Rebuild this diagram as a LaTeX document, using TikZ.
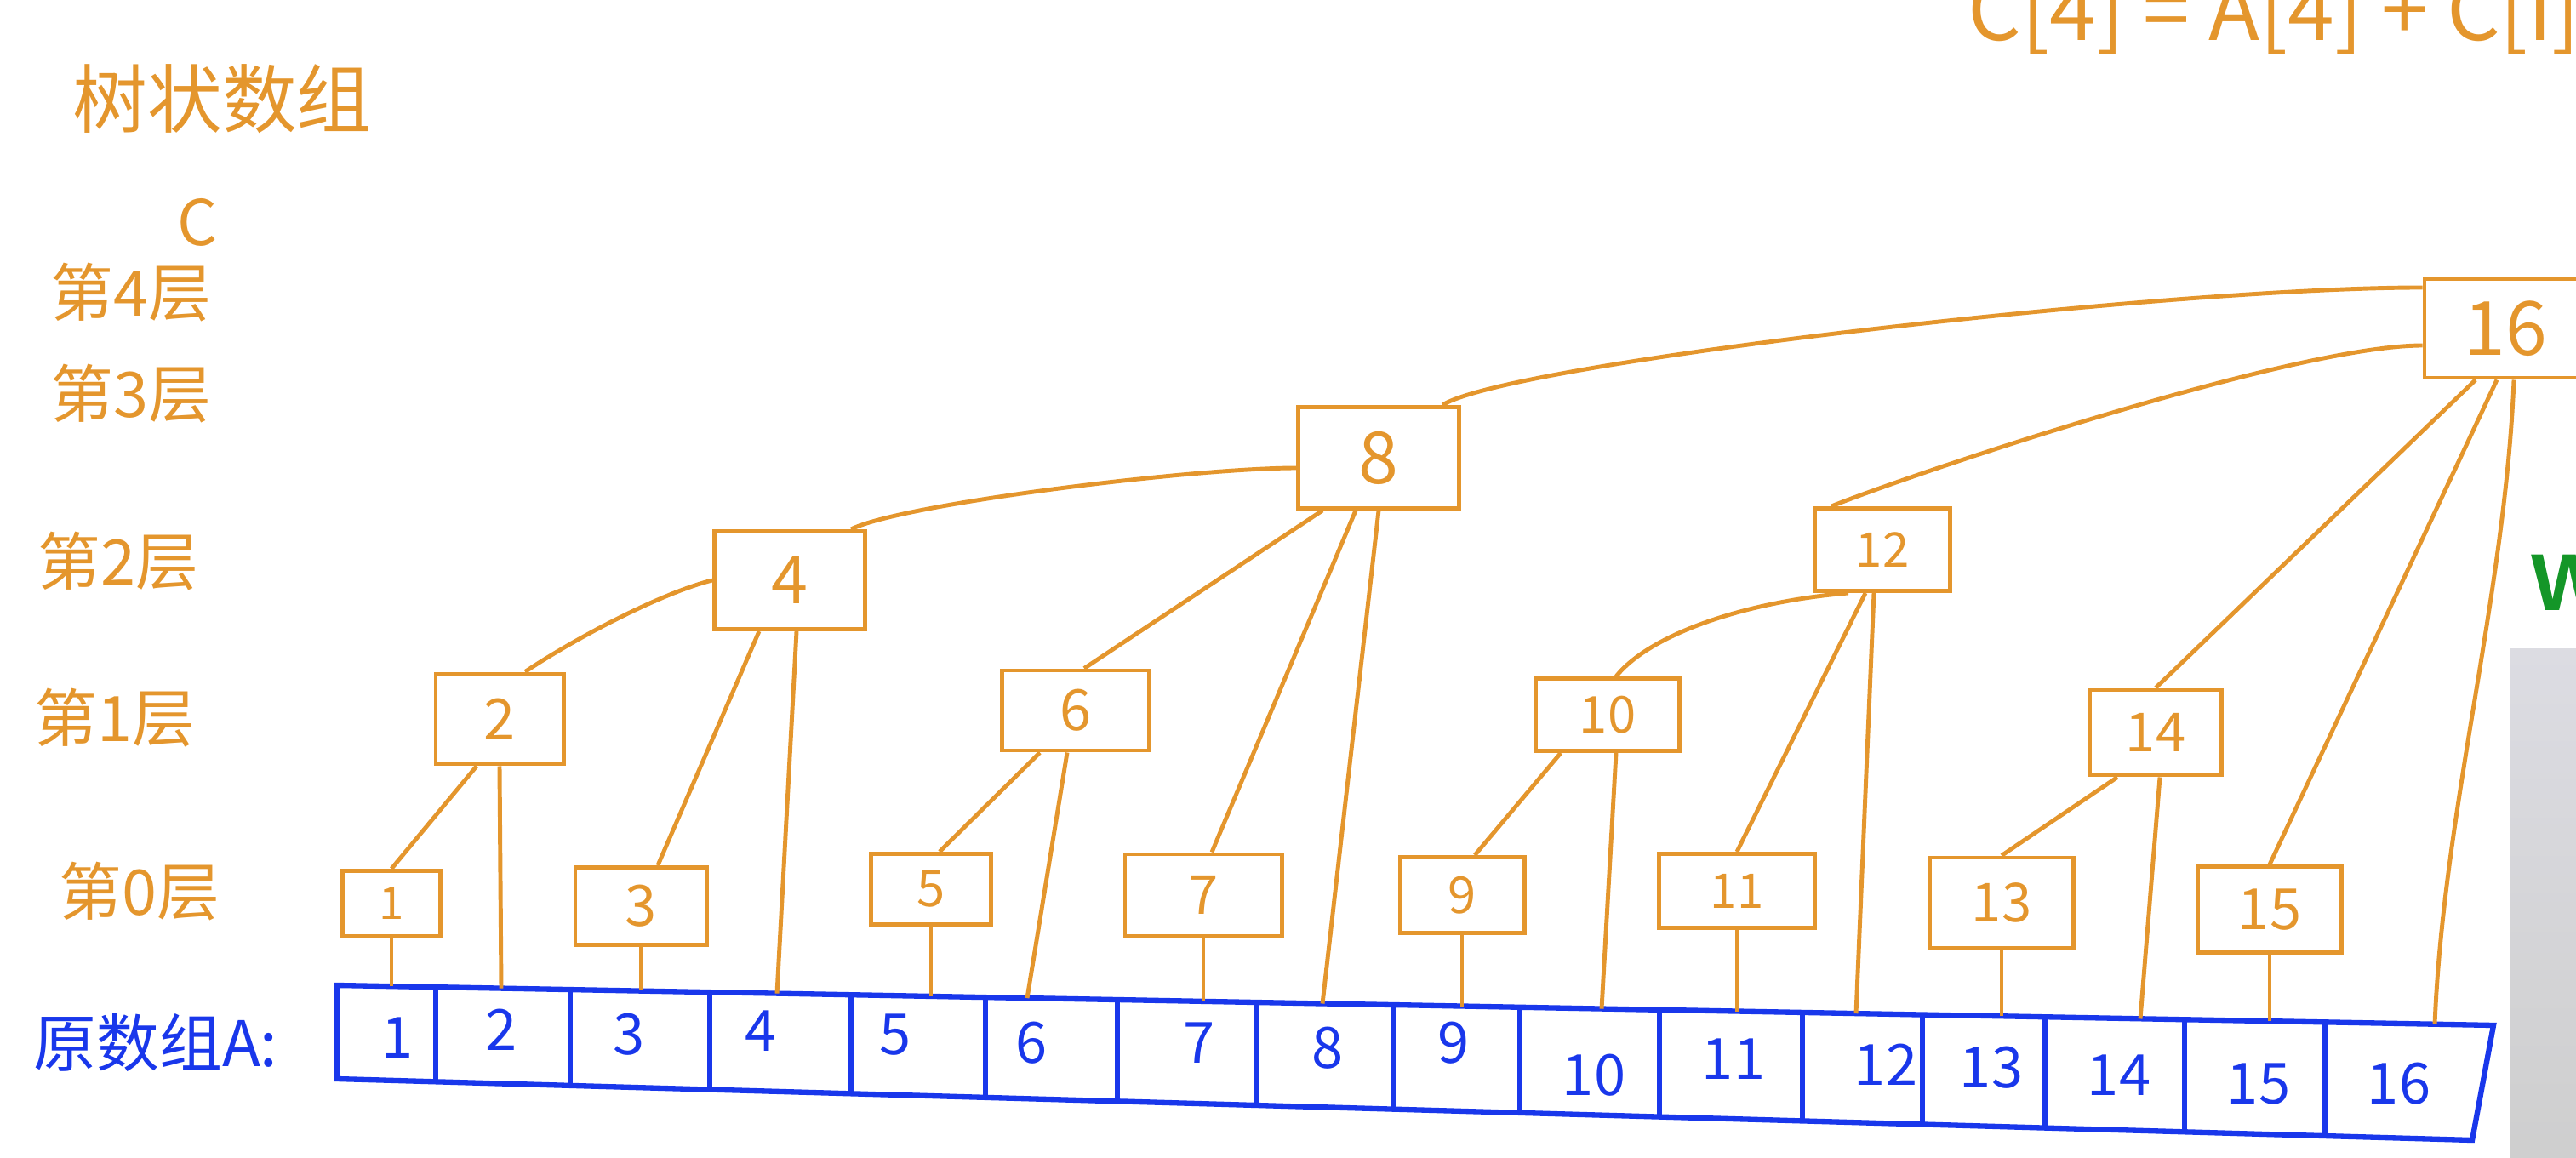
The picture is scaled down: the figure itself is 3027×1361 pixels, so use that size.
\documentclass[tikz,border=0pt]{standalone}
\usepackage{fontspec}
\newfontfamily\cjk{Noto Sans CJK SC}
\setsansfont{Liberation Sans}
\definecolor{corange}{RGB}{228,150,45}
\definecolor{ablue}{RGB}{25,55,235}
\definecolor{wgreen}{RGB}{20,150,40}
\begin{document}
\begin{tikzpicture}[x=0.01cm,y=-0.01cm,
  cbox/.style={draw=corange,line width=1.4pt,inner sep=0pt,text=corange},
  link/.style={draw=corange,line width=1.4pt},
  layer/.style={text=corange,font=\cjk\fontsize{21}{25}\selectfont},
  anum/.style={text=ablue,font=\cjk\fontsize{19}{23}\selectfont},
  cell/.style={draw=ablue,line width=1.8pt}]
\path[use as bounding box] (0,0) rectangle (3027,1361);
\clip (0,0) rectangle (3027,1361);
\node[layer,font=\cjk\fontsize{25}{30}\selectfont] (title) at (261,116) {树状数组};
\node[layer] (cname) at (232,261) {C};
\node[layer] (l4) at (154,344) {第4层};
\node[layer] (l3) at (154,463) {第3层};
\node[layer] (l2) at (139,660) {第2层};
\node[layer] (l1) at (135,844) {第1层};
\node[layer] (l0) at (164,1048) {第0层};
\node[anum,font=\cjk\fontsize{21}{25}\selectfont] (aname) at (183,1226) {原数组A:};
\node[layer,font=\cjk\fontsize{28}{32}\selectfont,anchor=base west] (eq) at (2300,48) {C[4] = A[4] + C[i]};
\node[anchor=west,text=wgreen,font=\sffamily\bfseries\fontsize{27}{30}\selectfont] (w) at (2962,685) {W};
\shade[top color=blue!10!gray!25,bottom color=gray!38] (2950,762) rectangle (3027,1361);
\draw[cell] (396,1158) -- (2930,1205) -- (2905,1340) -- (396,1268) -- cycle;
\foreach \x in {512,670,834,1000,1158,1313,1477,1637,1786,1950,2118,2259,2403,2567,2732}
  \draw[cell] (\x,{1158+(\x-396)*0.0186}) -- (\x,{1268+(\x-396)*0.0287});
\foreach \n/\x/\y in {1/467/1220,2/589/1210,3/739/1216,4/894/1212,5/1052/1216,6/1212/1226,7/1409/1226,8/1560/1232,
  9/1708/1226,10/1873/1264,11/2037/1245,12/2216/1251,13/2340/1255,14/2490/1264,15/2654/1274,16/2819/1274}
  \node[anum] (a\n) at (\x,\y) {\n};
\foreach \n/\x in {1/457,2/589,3/743,4/913,5/1077,6/1207,7/1432,8/1554,9/1718,10/1882,11/2042,12/2181,13/2342,14/2515,15/2670,16/2861}
  \coordinate (t\n) at (\x,{1158+(\x-396)*0.0186});
\foreach \n/\x/\y/\w/\h/\s in {1/460/1062/1.15/0.77/15,2/587/845/1.5/1.06/19,3/753/1065/1.54/0.91/19,4/928/682/1.77/1.15/22,
  5/1094/1045/1.41/0.83/17,6/1264/835/1.73/0.94/19,7/1414/1052/1.84/0.96/18,8/1620/538/1.89/1.19/24,
  9/1718/1052/1.46/0.89/17,10/1889/840/1.68/0.85/17,11/2041/1047/1.83/0.87/16,12/2212/646/1.59/0.97/16,
  13/2352/1061/1.68/1.06/18,14/2533/861/1.54/1.0/18,15/2667/1069/1.68/1.01/19,16/2944/386/1.9/1.16/25}
  \node[cbox,minimum width=\w cm,minimum height=\h cm,font=\cjk\fontsize{\s}{\s}\selectfont] (c\n) at (\x,\y) {\n};
\foreach \n in {1,3,...,15}
  \draw[link] (c\n.south) -- (c\n.south |- t\n);
\draw[link] ([xshift=-0.27cm]c2.south) -- (c1.north);
\draw[link] (c2.south) -- (t2);
\draw[link] ([xshift=-0.36cm]c4.south) -- ([xshift=0.2cm]c3.north);
\draw[link] ([xshift=0.08cm]c4.south) -- (t4);
\draw[link] ([xshift=0.3cm]c2.north) .. controls +(60,-40) and +(-60,15) .. (c4.west);
\draw[link] ([xshift=-0.42cm]c6.south) -- ([xshift=0.1cm]c5.north);
\draw[link] ([xshift=-0.1cm]c6.south) -- (t6);
\draw[link] ([xshift=-0.66cm]c8.south) -- ([xshift=0.1cm]c6.north);
\draw[link] ([xshift=-0.27cm]c8.south) -- ([xshift=0.1cm]c7.north);
\draw[link] (c8.south) -- (t8);
\draw[link] ([xshift=0.72cm]c4.north) .. controls +(60,-30) and +(-120,0) .. ([yshift=-0.12cm]c8.west);
\draw[link] ([xshift=-0.55cm]c10.south) -- ([xshift=0.15cm]c9.north);
\draw[link] ([xshift=0.1cm]c10.south) -- (t10);
\draw[link] ([xshift=-0.4cm]c12.south) .. controls +(-120,10) and +(40,-50) .. ([xshift=0.1cm]c10.north);
\draw[link] ([xshift=-0.2cm]c12.south) -- (c11.north);
\draw[link] ([xshift=-0.1cm]c12.south) -- (t12);
\draw[link] ([xshift=-0.6cm]c12.north) .. controls +(100,-40) and +(-150,0) .. ([yshift=-0.2cm]c16.west);
\draw[link] ([xshift=0.75cm]c8.north) .. controls +(80,-50) and +(-300,0) .. ([yshift=0.48cm]c16.west);
\draw[link] ([xshift=-0.45cm]c14.south) -- (c13.north);
\draw[link] ([xshift=0.05cm]c14.south) -- (t14);
\draw[link] ([xshift=-0.35cm]c16.south) -- (c14.north);
\draw[link] ([xshift=-0.1cm]c16.south) -- (c15.north);
\draw[link] ([xshift=0.1cm]c16.south) .. controls +(-10,250) and +(10,-250) .. (t16);
\end{tikzpicture}
\end{document}
